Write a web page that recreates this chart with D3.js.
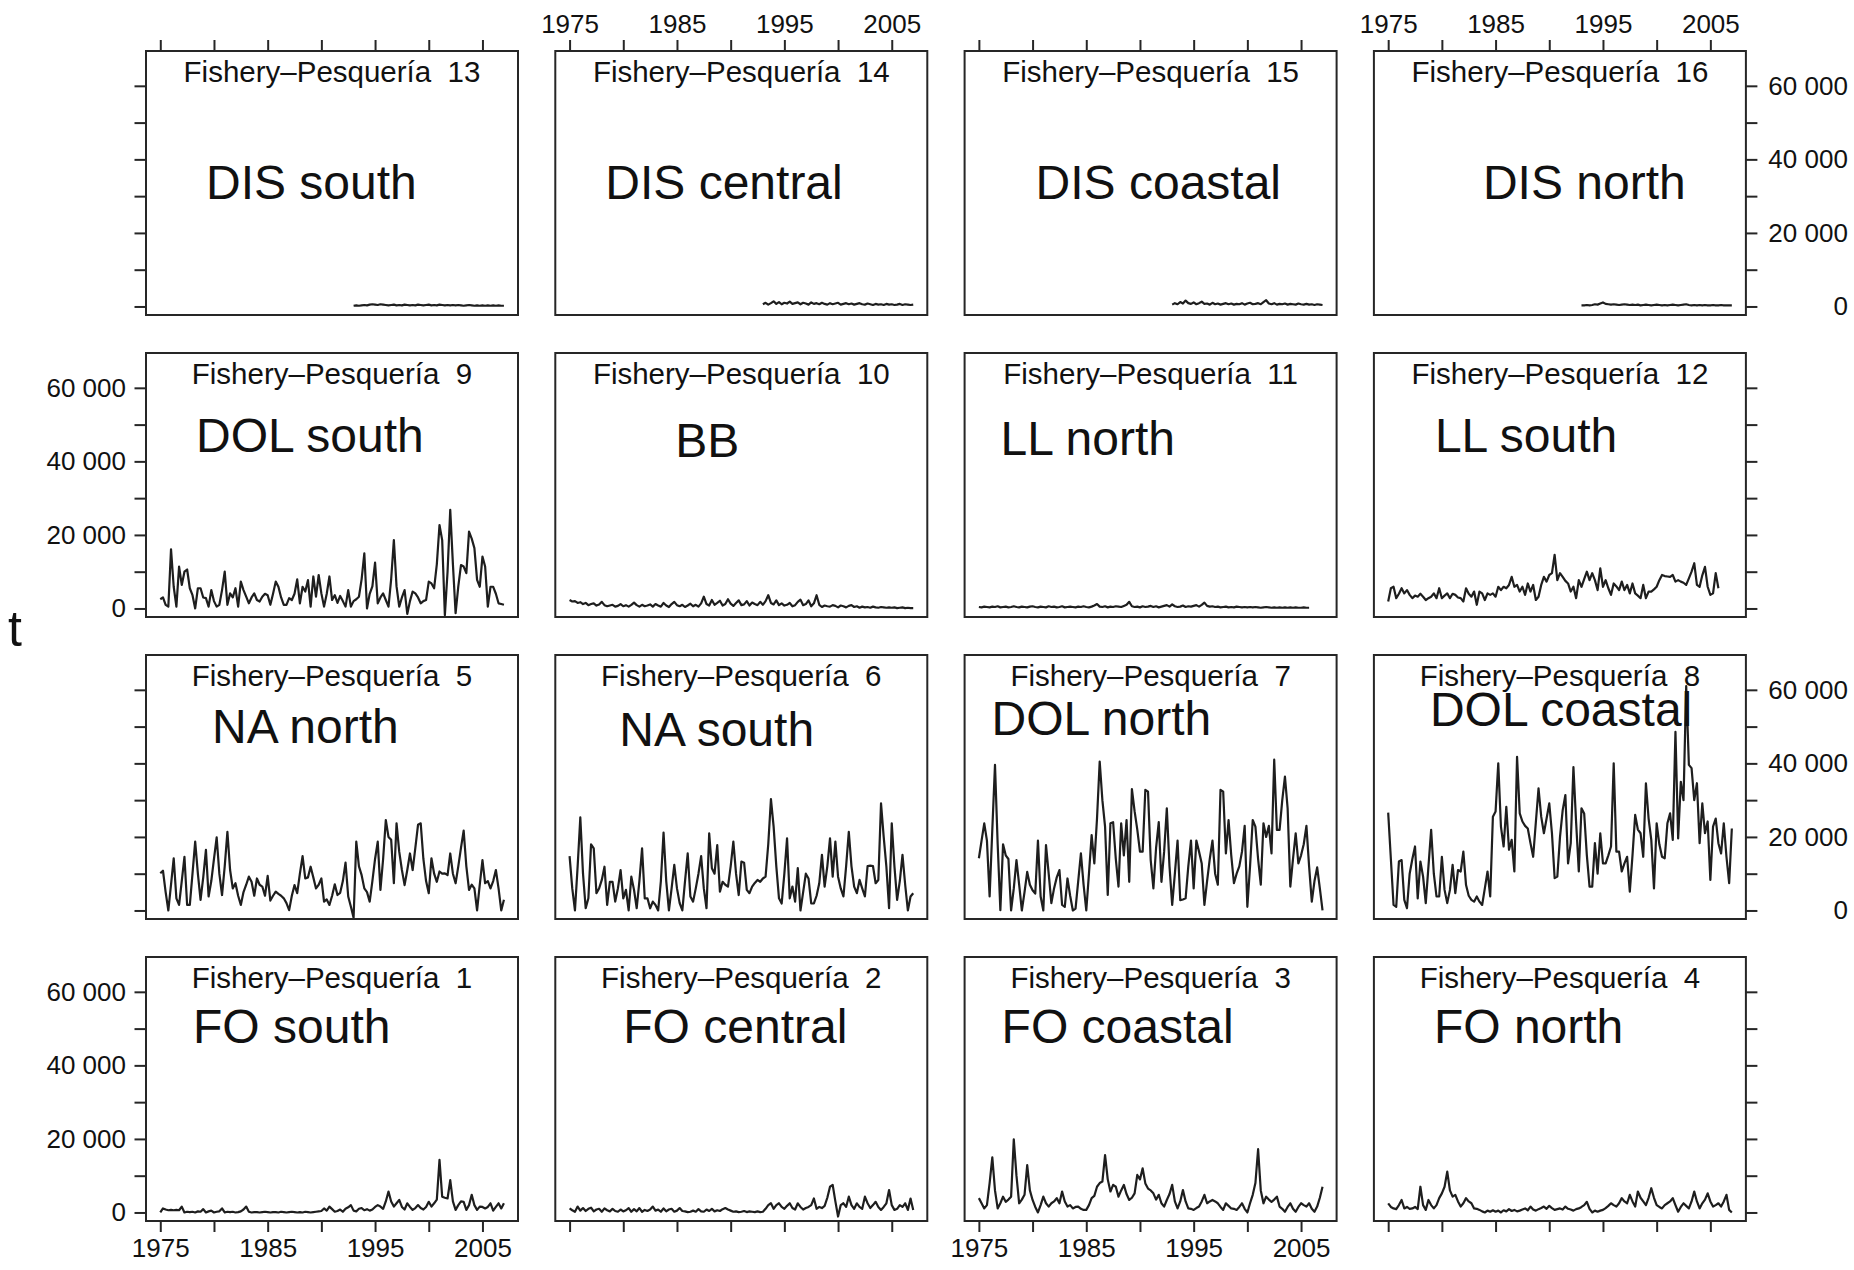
<!DOCTYPE html>
<html>
<head>
<meta charset="utf-8">
<script src="https://cdn.jsdelivr.net/npm/d3@7"></script>
<style>
  body { margin: 0; background: #fff; }
  svg { display: block; }
  text { font-family: "Liberation Sans", Arial, Helvetica, sans-serif; fill: #111; }
</style>
</head>
<body>
<svg id="chart" width="1854" height="1270"></svg>
<script>
// Quarterly catches, thousand tonnes, one value per quarter from each series' start year.
const fishery1 = [0,1.1,0.8,0.6,0.7,0.6,0.7,0.6,1.6,0,
  0.2,0.1,0.2,0,0.3,0.2,0.9,0,0.3,0.5,
  0,0.2,0.3,1.1,0,0.2,0.1,0.2,0,0.1,
  0.3,0.8,1.6,0.2,0,0.1,0.1,0,0.1,0.2,
  0.1,0,0.1,0.1,0,0.2,0.1,0,0.1,0.2,
  0.1,0,0.1,0,0.2,0.1,0,0.1,0.2,0.3,
  0.4,1.1,0.5,1.6,0.9,0.2,0.4,0.8,0.2,1,
  1.4,2,0.5,0.3,1,1.2,0.6,0.9,0.5,0.8,
  1.5,2,1.6,1,3,5.7,3,1.6,2.5,3.4,
  1.5,0.8,2.5,1.5,0.7,1.2,2,1.2,0.8,1.5,
  2.9,1.6,2.5,3.5,14.3,4.3,4,3.8,8.8,3,
  0.7,2,3,2.9,0.7,2,4.8,2,0.7,1.6,
  1.5,1.1,1.5,2.5,0.5,1.5,2.5,1.1,2.5];
const fishery2 = [1.1,0.6,0.2,1.6,0.5,1.2,0.4,1,1.3,0.3,
  0.8,1,0.2,1.1,0.6,0.3,1,0.4,0.2,0.8,
  0.3,0.6,1.2,0.2,0.9,0.3,1.2,0.2,0.7,0.4,
  0.8,1.6,0.5,0.8,0.2,1.1,0.3,0.8,1,0.2,
  0.5,1.2,0.4,0.3,0.1,0.2,0.5,0.2,0.9,0.3,
  0.2,0.8,0.4,1,0.3,0.6,0.4,0.9,1.2,0.8,
  0.5,0.2,0.3,0.1,0.2,0.4,0.1,0.3,0.2,0.1,
  0.3,0.1,0.2,1,2,2.5,1,2,2.5,1.5,
  1,1.8,2.5,1.2,0.8,2.5,1.5,0.8,1.2,1.5,
  2,3.8,1,1.5,1.2,1.8,4,7,7.5,3,
  -1.1,2,2.5,1.5,4.3,2,1,2.5,1.5,1,
  4.3,2.5,1.2,2,2.9,1.5,0.7,1.5,2.5,6.1,
  2,0.7,1,2,1.5,2.5,0.7,3.8,0.7];
const fishery3 = [3.9,2.5,1.1,2,8,15,6,1.1,2.5,4.3,
  2.9,3.5,4.3,19.9,10,2.5,3.5,4.8,12.9,6,
  3.4,1.5,0,2,4.3,2.5,1.6,2.5,3,3.9,
  2.5,5.7,3,1.6,2,1.1,1.5,1.6,1,0.7,
  0.7,2,3.9,4.5,7,8,8.4,15.6,9,5.7,
  7.5,7,4.3,6,7.5,5,3.4,4,5.2,10.2,
  9,12,7.9,6.5,6,5.2,3.5,4.8,2.5,1.6,
  3.4,5,7.5,3,1.1,3,6.1,3,1.1,1,
  0.7,1.2,1.6,3,4.8,2.5,3,3.4,3,2.5,
  1.5,0.7,2.5,1.8,1.1,1,0.7,1.5,2.5,1,
  0,2.5,4.8,8,17.2,6,2.5,4.3,3.5,2.9,
  3.5,4.3,1.6,1,0.2,1.5,2.5,1,0.2,1.5,
  2.5,2,1.6,2.5,1,0.2,1.6,4,7];
const fishery4 = [2.5,1.5,1.1,0.9,2,3.4,1.1,1.5,1,1.1,
  1.5,0.9,7,2,0.7,3.4,2,1.1,2,3.9,
  5.2,7,11.1,6,4.3,4.8,3,1.6,2.5,3.9,
  3,2.5,1.1,1,0.7,0.3,0,0.5,0.2,0.6,
  0.2,0.5,0,0.6,0.3,0.9,0.4,0.7,0.3,0.5,
  0.8,1.1,0.6,1.6,0.8,0.5,0.9,1.2,1.6,1,
  1.8,1.2,0.7,0.9,1.1,0.8,1.6,1,0.8,0.5,
  0.9,1.1,1.5,2,2.9,1,0,0.5,0.2,0.5,
  0.7,1.2,1.8,2.5,2,1.6,2.5,3.9,3,2.5,
  4.8,3,1.6,5.7,4,3,2,4,6.6,4,
  2,1.5,1.1,2,2.5,3,3.9,2,0.2,1.5,
  2.5,1.8,1.1,3,5.7,3,1.1,2.5,3.5,5.2,
  3,1.6,2,2.5,1.6,3,4.8,0.7,0];
const fishery5 = [10.1,10.8,5,0,7,14.2,3.3,1.5,8,14.6,
  1.5,1.5,10,18.7,10,2.9,9,16.5,3.8,8,
  14,19.9,10,4.2,12,21.4,11,6,7.4,4,
  1.5,5,7,9.2,7.8,4,8.7,7,6.5,4,
  9.4,2.7,4,5.1,4.5,4,3.3,2,0.1,4,
  6.9,4.7,10,14.8,8.7,9,11.9,9,6,7,
  8.7,2.4,3,1.5,4,7.1,4.2,4.8,8,13,
  3.8,1,-2,18.7,12,9.6,6,5,2.4,8,
  14,18.7,5.6,14,24.6,20,19.2,7.4,23.7,16,
  11,6.9,11,15.5,11,17,23.3,23.7,14,8,
  4.7,14.2,10,7.8,10.6,10,10.1,9.6,15.5,10,
  7.4,12,17,21.7,12,5.6,7,6,0,7,
  13.7,7.4,8,6,8,11,6,0,2.9];
const fishery6 = [14.8,6,0,12,25.3,10,0.6,3.3,18,16.9,
  4.7,6,8.3,11.9,1.5,7.8,7.8,2.4,6,11,
  3.3,5.6,0,9.2,5.6,0.6,8,16.9,3.3,3.3,
  0.6,2.4,1.5,0,8,21.2,8,0,6,12.4,
  6,2,0,8,15.5,3.8,2.4,6,10,14.8,
  6,0.6,21,11.5,10,17.8,5.1,7.8,7,6.5,
  12,18.7,10,4.2,13.3,13,5.6,4.7,6.5,7.5,
  8.3,7.8,8.7,9.2,18,30.3,22.8,12,3.3,1.9,
  10,19.6,3.3,6.5,2.4,11.5,0,5,10,8.7,
  1.9,1.9,4,7.4,15.1,6.5,12,19.6,9.2,18.7,
  9.2,6,3.8,12,21.4,12,6.5,4.7,8.3,6,
  3.8,12.1,12.2,12.1,7.4,8.3,29.1,20,11.9,0.6,
  23.7,12,2.9,8,15.1,7,0,3.8,4.7];
const fishery7 = [14.2,19,23.7,19,3.8,22,39.6,18,0.1,18,
  15,14,0,6,13.7,7,0,5,10.5,7,
  5.5,4.6,19,3.8,0,17.8,10,2,6,9,
  11,1.5,1,8.7,4,0,0.5,8,15.5,7,
  0,10,20.5,12.8,25,40.5,30,22.8,4.2,23.7,
  24,14,6.5,23.7,15,24.6,7.8,33,27,22,
  16,16,32.8,32.3,13.7,6,17,24,7.8,16,
  27.8,12,1.5,10,19,2.8,3,3.3,12,19,
  6,19,16,12.8,1.5,8,14,19,10,7,
  32.8,32.3,15.5,24.6,15,7.4,10,12,16,23,
  1,12,24.6,22.8,14,7,23.7,20,23,15.5,
  41,21.9,21.9,30,36.4,27.8,6.5,14,21,12.8,
  15,18,23,12,2.4,8,11.7,6,0];
const fishery8 = [26.6,14,1.5,1,13.3,13.7,2.9,0.6,10,14,
  17.4,3.3,13.3,9.2,2,12,21.9,10,3.8,3.8,
  14.6,5.6,2,5.6,12.4,4.7,11,10.6,16,6.9,
  4,2.9,2.4,3.8,2.4,1.5,6,10.6,3.8,25.5,
  26.9,40,22.8,17.4,28.2,16.5,19.2,10.6,41.8,26.4,
  24.2,23,22.3,18.3,14.6,24,33.2,25.5,21,25,
  29.1,21,8.8,9.2,20,27.3,31.4,12.8,18.3,39,
  24,10.6,27.8,26.4,15,6.5,6.5,18.3,10,21,
  12.8,12.8,15,17.4,40,16,16,10.6,12.8,14.6,
  5.1,15,26,22,21,14.6,34.6,25,19.2,6,
  23.7,18,14.6,14.2,23.7,26.4,19.2,48.6,19.6,35,
  30,61,39.6,38.7,30,34.6,18.3,29.1,21,24.2,
  8.3,22.8,25,18.3,15.5,23.7,14.6,7.4,22.3];
const fishery9 = [2.5,3,1,0.5,16.1,5.9,0.5,11.4,6.4,10,
  10.6,5.5,3.6,0,5.5,5.5,3,2.8,0.5,5,
  2,0.5,1,5,10,1,4.1,3,5.5,0.5,
  7.3,5,3.2,1.4,3,4.1,2.3,1.9,3.2,4,
  3.6,1,4,7.3,5.9,3,1,1,2.8,2.3,
  4,7.9,1.4,5.9,4.6,7.7,0.5,8.7,3.2,9.1,
  4.1,0.5,4,8.7,2.3,3.6,1.5,3.4,2,0.5,
  5,0.5,2,2.5,3.2,8,15,0,4,6,
  12.5,1.4,3,4.1,2.3,0.5,8,18.6,6,0.5,
  3,5,-1.5,2,4.6,4.1,3,1.4,2,2.3,
  7.3,6.8,5.5,12,22.7,18.6,-1.8,10,26.8,12,
  -1.3,6,11.8,11.4,9.6,20.9,19,16.4,7.8,5.9,
  14.1,11.4,0.5,5.9,5.9,4,1.4,1.2,1];
const fishery10 = [2.3,1.9,2.0,1.5,1.7,1.2,1.5,0.9,1.2,1.4,
  0.8,1.1,1.8,0.9,0.6,0.8,1.0,0.5,0.7,1.2,
  0.6,0.9,0.5,1.0,1.6,0.9,0.5,1.0,0.6,0.8,
  1.1,0.5,1.2,0.8,0.5,1.5,0.8,0.4,1.2,1.8,
  0.9,0.6,1.0,0.4,0.8,1.3,0.6,1.0,0.5,1.4,
  3.2,1.2,0.8,2.3,1.0,1.5,2.1,0.8,1.2,2.5,
  1.3,0.7,1.5,2.2,0.9,1.1,2.0,0.8,1.6,1.2,
  0.9,1.8,1.0,2.0,3.6,1.5,1.1,2.2,0.9,1.4,
  0.8,1.0,1.5,0.6,0.9,1.8,2.4,0.9,1.2,2.2,
  0.6,1.4,3.6,1.0,0.4,0.8,0.6,0.5,0.9,0.7,
  0.3,0.8,0.6,0.3,0.7,0.9,0.4,0.6,0.2,0.5,
  0.3,0.4,0.2,0.5,0.3,0.2,0.4,0.3,0.2,0.3,
  0.2,0.3,0.1,0.2,0.3,0.1,0.2,0.1,0.1];
const fishery11 = [0.4,0.3,0.5,0.4,0.3,0.5,0.4,0.6,0.3,0.4,
  0.5,0.3,0.4,0.6,0.4,0.3,0.5,0.4,0.3,0.5,
  0.6,0.4,0.3,0.5,0.4,0.3,0.6,0.4,0.5,0.3,
  0.4,0.6,0.3,0.4,0.5,0.4,0.3,0.5,0.4,0.6,
  0.4,0.3,0.5,0.8,1.2,0.5,0.4,0.6,0.3,0.5,
  0.4,0.6,0.5,0.4,0.7,1.0,1.8,0.6,0.4,0.5,
  0.3,0.6,0.4,0.5,0.7,0.4,0.6,0.3,0.5,0.7,
  0.9,0.5,1.1,0.6,0.4,0.5,0.8,0.4,0.6,0.5,
  0.7,0.9,0.5,1.0,1.6,0.7,0.5,0.6,0.4,0.5,
  0.3,0.4,0.5,0.3,0.4,0.3,0.5,0.4,0.3,0.4,
  0.3,0.4,0.3,0.4,0.3,0.2,0.3,0.4,0.3,0.2,
  0.3,0.2,0.3,0.2,0.3,0.2,0.3,0.2,0.3,0.2,
  0.2,0.3,0.2,0.2];
const fishery12 = [1.9,5.5,5.9,2.8,4,5.5,4.1,5,3.7,2.8,
  3.5,3.2,4,3.2,2.3,2.8,3.2,4.1,2.8,5.5,
  2.8,3.5,4.1,2.8,4,3.7,3,2.8,1.9,5.5,
  4,3.2,4.6,1,4.6,4.1,2.3,4.1,3.7,4.1,
  3.2,5.9,5,5.9,5.5,6.4,8.6,5.9,6.4,4.6,
  5.9,3.7,6.8,4.6,6.4,2.3,3.2,6.4,8.6,7.3,
  9.1,9.6,14.6,7.7,9.6,8.6,7.5,6.8,4.6,5.9,
  2.8,7.7,5.9,8,10,7.7,9.6,7.7,5,10.9,
  5.9,7.7,5.5,3.7,6.8,6,5,7.3,5,6.4,
  4.1,6.8,4.1,3.5,2.8,6.4,2.8,4.6,4.6,5.2,
  5.9,7.7,9.1,8.8,8.7,8.6,9.1,7.3,7.7,7.3,
  7,6.4,8.2,10,12.3,6.4,5.9,9,11.3,5.9,
  3.7,4.1,9.6,5.5];
const fishery13 = [0.2,0.3,0.2,0.3,0.4,0.3,0.5,0.6,0.5,0.4,
  0.6,0.5,0.4,0.3,0.4,0.5,0.3,0.4,0.3,0.5,
  0.4,0.3,0.4,0.3,0.5,0.4,0.3,0.4,0.5,0.3,
  0.4,0.3,0.5,0.4,0.3,0.4,0.3,0.4,0.3,0.4,
  0.3,0.2,0.3,0.4,0.3,0.2,0.3,0.2,0.3,0.2,
  0.3,0.2,0.3,0.2,0.3,0.2,0.2];
const fishery14 = [0.6,1.0,0.5,0.9,1.4,0.7,1.2,0.6,1.0,0.8,
  1.3,0.7,0.9,1.1,0.6,1.0,0.8,0.5,1.1,0.7,
  0.9,0.6,1.0,0.7,0.5,0.9,0.6,0.8,1.0,0.5,
  0.7,0.9,0.6,0.8,0.5,0.7,0.9,0.6,0.5,0.8,
  0.6,0.4,0.7,0.5,0.6,0.4,0.7,0.5,0.6,0.4,
  0.5,0.7,0.4,0.6,0.5,0.4,0.5];
const fishery15 = [0.5,0.9,0.6,1.2,0.8,1.6,0.9,0.7,1.1,0.6,
  0.9,1.3,0.7,0.8,0.5,1.0,0.6,0.8,0.5,0.7,
  0.9,0.6,0.8,0.5,0.7,0.6,0.9,0.5,0.8,1.0,
  0.6,0.7,0.9,0.6,1.2,1.7,0.8,0.6,0.9,0.5,
  0.7,0.6,0.8,0.5,0.7,0.6,0.5,0.8,0.6,0.5,
  0.7,0.5,0.6,0.4,0.6,0.5,0.4];
const fishery16 = [0.3,0.3,0.4,0.3,0.4,0.6,0.5,0.8,1.1,0.7,
  0.6,0.5,0.6,0.5,0.4,0.5,0.6,0.5,0.4,0.5,
  0.4,0.5,0.3,0.4,0.5,0.4,0.3,0.4,0.5,0.4,
  0.3,0.4,0.3,0.4,0.5,0.4,0.3,0.4,0.5,0.6,
  0.4,0.3,0.4,0.3,0.4,0.3,0.4,0.3,0.3,0.4,
  0.3,0.3,0.4,0.3,0.3,0.3,0.3];

// Panel order, top row first, left to right
const panelOrder = [13, 14, 15, 16, 9, 10, 11, 12, 5, 6, 7, 8, 1, 2, 3, 4];
const gearNames = ["FO south", "FO central", "FO coastal", "FO north",
                   "NA north", "NA south", "DOL north", "DOL coastal",
                   "DOL south", "BB", "LL north", "LL south",
                   "DIS south", "DIS central", "DIS coastal", "DIS north"];
const seriesStart = [1975, 1975, 1975, 1975, 1975, 1975, 1975, 1975,
                     1975, 1975, 1975, 1975, 1993, 1993, 1993, 1993];
const catches = [fishery1, fishery2, fishery3, fishery4, fishery5, fishery6, fishery7, fishery8,
                 fishery9, fishery10, fishery11, fishery12, fishery13, fishery14, fishery15, fishery16];
const yearTicks = [1975, 1980, 1985, 1990, 1995, 2000, 2005];
const yearLabels = [1975, 1985, 1995, 2005];
const catchTicks = [0, 10000, 20000, 30000, 40000, 50000, 60000];
const catchLabels = [0, 20000, 40000, 60000];
const stripTitle = "Fishery\u2013Pesquería";
const yTitle = "t";

// Where each gear label sits inside its panel (dx from left, dy from top)
const gearLabelPos = {
  1: [47, 86], 2: [68, 86], 3: [37, 86], 4: [60, 86],
  5: [66, 88], 6: [64, 91], 7: [27, 80], 8: [56, 71],
  9: [50, 99], 10: [120, 104], 11: [36, 102], 12: [61, 99],
  13: [60, 148], 14: [50, 148], 15: [71, 148], 16: [109, 148]
};

const svg = d3.select("#chart");
const panelW = 372, panelH = 264;
const colX = c => 146 + 409.3 * c;
const rowY = r => 51 + 302 * r;
const ink = "#262626";

const x = d3.scaleLinear().domain([1973.67, 2008.31]).range([0, panelW]);
const y = d3.scaleLinear().domain([-2320, 69470]).range([panelH, 0]);

const fmt = d3.formatLocale({decimal: ".", thousands: " ", grouping: [3], currency: ["", ""]}).format(",");

const line = d3.line()
  .x(d => x(d.t))
  .y(d => y(d.v));

function styleAxis(g) {
  g.select(".domain").remove();
  g.selectAll(".tick line").attr("stroke", ink).attr("stroke-width", 2);
  g.selectAll(".tick text")
    .attr("font-family", "'Liberation Sans', Arial, sans-serif")
    .attr("font-size", 26)
    .attr("fill", "#111");
}

panelOrder.forEach((id, k) => {
  const r = Math.floor(k / 4), c = k % 4;
  const g = svg.append("g").attr("transform", `translate(${colX(c)},${rowY(r)})`);

  // series
  const vals = catches[id - 1];
  const start = seriesStart[id - 1];
  const pts = vals.map((v, i) => ({t: start + i / 4, v: v * 1000}));
  g.append("path")
    .datum(pts)
    .attr("d", line)
    .attr("fill", "none")
    .attr("stroke", "#1e1e1e")
    .attr("stroke-width", 2.2)
    .attr("stroke-linejoin", "round");

  // frame
  g.append("rect")
    .attr("x", 0).attr("y", 0)
    .attr("width", panelW).attr("height", panelH)
    .attr("fill", "none")
    .attr("stroke", ink)
    .attr("stroke-width", 2);

  // strip title
  g.append("text")
    .attr("x", panelW / 2).attr("y", 31)
    .attr("text-anchor", "middle")
    .attr("font-size", 29.5)
    .text(stripTitle + "\u00a0\u00a0" + id);

  // gear label
  const pos = gearLabelPos[id];
  g.append("text")
    .attr("x", pos[0]).attr("y", pos[1])
    .attr("font-size", 48)
    .text(gearNames[id - 1]);

  // axes on outer edges
  if (r === 0) {
    const ax = d3.axisTop(x).tickValues(yearTicks).tickSize(11).tickPadding(7)
      .tickFormat(d => (c % 2 === 1 && yearLabels.includes(d)) ? d : "");
    g.append("g").call(ax).call(styleAxis);
  }
  if (r === 3) {
    const ax = d3.axisBottom(x).tickValues(yearTicks).tickSize(11).tickPadding(7)
      .tickFormat(d => (c % 2 === 0 && yearLabels.includes(d)) ? d : "");
    g.append("g").attr("transform", `translate(0,${panelH})`).call(ax).call(styleAxis);
  }
  if (c === 0) {
    const ax = d3.axisLeft(y).tickValues(catchTicks).tickSize(11.5).tickPadding(8.5)
      .tickFormat(d => (r % 2 === 1 && catchLabels.includes(d)) ? fmt(d) : "");
    g.append("g").call(ax).call(styleAxis);
  }
  if (c === 3) {
    const ax = d3.axisRight(y).tickValues(catchTicks).tickSize(11.5).tickPadding(8)
      .tickFormat(d => (r % 2 === 0 && catchLabels.includes(d)) ? fmt(d) : "");
    const ag = g.append("g").attr("transform", `translate(${panelW},0)`).call(ax).call(styleAxis);
    // right-hand labels share a common right edge
    ag.selectAll(".tick text").attr("text-anchor", "end").attr("x", 102);
  }
});

// y-axis title
svg.append("text")
  .attr("x", 8).attr("y", 646)
  .attr("font-size", 50)
  .text(yTitle);
</script>
</body>
</html>
